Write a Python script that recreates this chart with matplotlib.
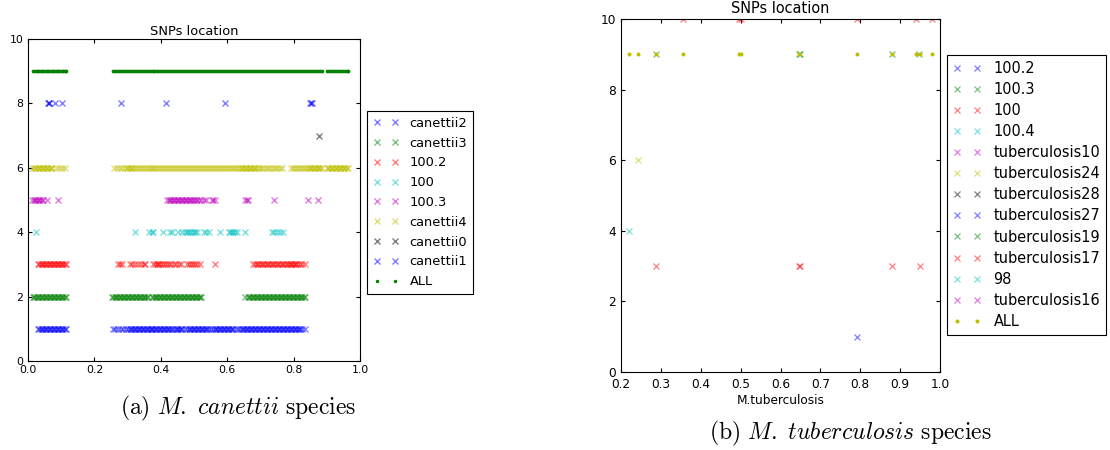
import matplotlib
matplotlib.use("Agg")
import matplotlib.pyplot as plt

# ---------------- data: left panel (M. canettii) ----------------
left_names = ["canettii2", "canettii3", "100.2", "100", "100.3",
              "canettii4", "canettii0", "canettii1"]
left_levels = [1, 2, 3, 4, 5, 6, 7, 8]
left_all_level = 9

canettii2_x = [0.030, 0.034, 0.038, 0.042, 0.046, 0.050, 0.054, 0.058, 0.062, 0.066, 0.070,
               0.074, 0.078, 0.082, 0.086, 0.090, 0.094, 0.098, 0.102, 0.106, 0.110, 0.114,
               0.255, 0.262, 0.270, 0.279, 0.287, 0.295, 0.301, 0.306, 0.310, 0.314, 0.318,
               0.322, 0.326, 0.330, 0.334, 0.338, 0.342, 0.346, 0.350, 0.354, 0.358, 0.362,
               0.366, 0.370, 0.374, 0.378, 0.382, 0.386, 0.390, 0.394, 0.398, 0.402, 0.406,
               0.410, 0.414, 0.418, 0.422, 0.426, 0.430, 0.434, 0.441, 0.445, 0.449, 0.453,
               0.457, 0.461, 0.465, 0.472, 0.479, 0.484, 0.488, 0.492, 0.496, 0.500, 0.504,
               0.508, 0.512, 0.516, 0.520, 0.524, 0.528, 0.532, 0.536, 0.540, 0.544, 0.551,
               0.558, 0.562, 0.566, 0.570, 0.574, 0.578, 0.582, 0.586, 0.590, 0.594, 0.598,
               0.602, 0.606, 0.610, 0.614, 0.618, 0.625, 0.632, 0.639, 0.644, 0.648, 0.652,
               0.656, 0.660, 0.664, 0.668, 0.672, 0.676, 0.680, 0.684, 0.688, 0.692, 0.696,
               0.700, 0.704, 0.708, 0.712, 0.716, 0.720, 0.724, 0.728, 0.732, 0.736, 0.740,
               0.744, 0.748, 0.752, 0.756, 0.760, 0.764, 0.768, 0.772, 0.776, 0.780, 0.784,
               0.788, 0.792, 0.796, 0.800, 0.804, 0.808, 0.812, 0.816, 0.820, 0.826, 0.833]
canettii3_x = [0.014, 0.018, 0.022, 0.026, 0.030, 0.034, 0.038, 0.042, 0.046, 0.050, 0.054,
               0.058, 0.062, 0.066, 0.070, 0.074, 0.078, 0.082, 0.086, 0.090, 0.094, 0.098,
               0.102, 0.106, 0.110, 0.114,
               0.253, 0.257, 0.261, 0.265, 0.269, 0.273, 0.277, 0.281, 0.285, 0.289, 0.293,
               0.297, 0.301, 0.305, 0.309, 0.313, 0.317, 0.321, 0.325, 0.329, 0.333, 0.337,
               0.341, 0.345, 0.349, 0.353, 0.357, 0.361,
               0.374, 0.378, 0.382, 0.386, 0.390, 0.394, 0.398, 0.402, 0.406, 0.410, 0.414,
               0.418, 0.422, 0.426, 0.430, 0.434, 0.438, 0.442, 0.446, 0.450, 0.454, 0.458,
               0.462, 0.466, 0.470, 0.474, 0.478, 0.482, 0.486, 0.490, 0.494, 0.498, 0.502,
               0.506, 0.510, 0.514, 0.518, 0.522,
               0.653, 0.662, 0.666, 0.670, 0.674, 0.678, 0.682, 0.686, 0.690, 0.694, 0.698,
               0.702, 0.706, 0.710, 0.714, 0.718, 0.722, 0.726, 0.730, 0.734, 0.738, 0.742,
               0.746, 0.750, 0.754, 0.758, 0.762, 0.766, 0.770, 0.774, 0.778, 0.782, 0.786,
               0.790, 0.794, 0.798, 0.802, 0.806, 0.810, 0.814, 0.818, 0.822, 0.826, 0.830,
               0.834]
s100_2_x = [0.030, 0.034, 0.038, 0.042, 0.046, 0.050, 0.054, 0.058, 0.062, 0.066, 0.070,
            0.074, 0.078, 0.082, 0.086, 0.090, 0.094, 0.098, 0.102, 0.106, 0.110, 0.114,
            0.272, 0.276, 0.282, 0.307, 0.314, 0.322, 0.331, 0.340, 0.348, 0.352, 0.378,
            0.383, 0.388, 0.392, 0.396, 0.401, 0.406, 0.412, 0.418, 0.425, 0.432, 0.440,
            0.447, 0.455, 0.462, 0.478, 0.484, 0.490, 0.496, 0.502, 0.509, 0.517, 0.563,
            0.679, 0.684, 0.689, 0.694, 0.699, 0.704, 0.709, 0.714, 0.719, 0.724, 0.729,
            0.734, 0.739, 0.744, 0.749, 0.754, 0.759, 0.764, 0.769, 0.774, 0.779, 0.784,
            0.788, 0.792, 0.796, 0.800, 0.804, 0.808, 0.812, 0.818, 0.825, 0.833]
s100_x = [0.024, 0.322, 0.365, 0.372, 0.378, 0.406, 0.428, 0.433, 0.453, 0.463, 0.473,
          0.478, 0.483, 0.489, 0.494, 0.499, 0.504, 0.508, 0.530, 0.537, 0.545, 0.578,
          0.604, 0.609, 0.613, 0.618, 0.624, 0.629, 0.654, 0.734, 0.742, 0.750, 0.758,
          0.768]
s100_3_x = [0.013, 0.017, 0.021, 0.025, 0.029, 0.033, 0.037, 0.041, 0.046, 0.056, 0.089,
            0.420, 0.424, 0.428, 0.432, 0.436, 0.440, 0.444, 0.448, 0.452, 0.456, 0.460,
            0.464, 0.468, 0.472, 0.476, 0.480, 0.484, 0.488, 0.492, 0.496, 0.500, 0.505,
            0.510, 0.516, 0.522, 0.530, 0.537, 0.553, 0.558, 0.563, 0.654, 0.659, 0.664,
            0.742, 0.844, 0.874]
canettii4_x = [0.013, 0.017, 0.021, 0.025, 0.029, 0.033, 0.037, 0.041, 0.045, 0.049, 0.053,
               0.057, 0.061, 0.065, 0.069, 0.073, 0.083, 0.092, 0.103, 0.112,
               0.260, 0.268, 0.276, 0.284, 0.292, 0.298, 0.302, 0.306, 0.310, 0.314, 0.318,
               0.324, 0.330, 0.336, 0.342, 0.348, 0.354, 0.360, 0.366, 0.372, 0.378, 0.384,
               0.390, 0.396, 0.402, 0.408, 0.414, 0.420, 0.426, 0.432, 0.438, 0.444, 0.450,
               0.456, 0.462, 0.468, 0.474, 0.480, 0.486, 0.492, 0.498, 0.504, 0.510, 0.516,
               0.522, 0.528, 0.534, 0.540, 0.546, 0.552, 0.558, 0.564, 0.570, 0.576, 0.582,
               0.588, 0.594, 0.600, 0.606, 0.612, 0.618, 0.624, 0.630, 0.636, 0.641, 0.645,
               0.649, 0.653, 0.657, 0.661, 0.665, 0.669, 0.673, 0.677, 0.681, 0.685, 0.689,
               0.695, 0.702, 0.709, 0.716, 0.723, 0.730, 0.737, 0.744, 0.751, 0.758, 0.765,
               0.792, 0.798, 0.804, 0.810, 0.816, 0.822, 0.828, 0.834, 0.840, 0.845, 0.849,
               0.853, 0.857, 0.861, 0.865, 0.869, 0.873, 0.877, 0.881, 0.885, 0.900, 0.904,
               0.908, 0.912, 0.916, 0.920, 0.924, 0.928, 0.932, 0.936, 0.940, 0.944, 0.948,
               0.952, 0.956, 0.960, 0.964]
canettii0_x = [0.875]
canettii1_x = [0.059, 0.062, 0.064, 0.081, 0.103, 0.280, 0.416, 0.593, 0.848, 0.851, 0.854]
left_all_x = [0.016, 0.021, 0.026, 0.031, 0.036, 0.041, 0.046, 0.051, 0.056, 0.061, 0.066,
              0.071, 0.076, 0.081, 0.086, 0.091, 0.096, 0.101, 0.106, 0.111, 0.114,
              0.255, 0.261, 0.267, 0.273, 0.279, 0.285, 0.291, 0.297, 0.303, 0.309, 0.315,
              0.321, 0.327, 0.333, 0.339, 0.345, 0.351, 0.357, 0.363, 0.369, 0.375, 0.381,
              0.387, 0.393, 0.399, 0.405, 0.411, 0.417, 0.423, 0.429, 0.435, 0.441, 0.447,
              0.453, 0.459, 0.465, 0.471, 0.477, 0.483, 0.489, 0.495, 0.501, 0.507, 0.513,
              0.519, 0.525, 0.531, 0.537, 0.543, 0.549, 0.555, 0.561, 0.567, 0.573, 0.579,
              0.585, 0.591, 0.597, 0.603, 0.609, 0.615, 0.621, 0.627, 0.633, 0.639, 0.645,
              0.651, 0.657, 0.663, 0.669, 0.675, 0.681, 0.687, 0.693, 0.699, 0.705, 0.711,
              0.717, 0.723, 0.729, 0.735, 0.741, 0.747, 0.753, 0.759, 0.765, 0.771, 0.777,
              0.783, 0.789, 0.795, 0.801, 0.807, 0.813, 0.819, 0.825, 0.831, 0.837, 0.843,
              0.849, 0.855, 0.861, 0.867, 0.873, 0.879, 0.885,
              0.900, 0.906, 0.912, 0.918, 0.924, 0.930, 0.936, 0.942, 0.948, 0.954, 0.960,
              0.965]
left_series = [canettii2_x, canettii3_x, s100_2_x, s100_x, s100_3_x,
               canettii4_x, canettii0_x, canettii1_x]

# ---------------- data: right panel (M. tuberculosis) ----------------
right_names = ["100.2", "100.3", "100", "100.4", "tuberculosis10", "tuberculosis24",
               "tuberculosis28", "tuberculosis27", "tuberculosis19", "tuberculosis17",
               "98", "tuberculosis16"]
right_levels = [1, 2, 3, 4, 5, 6, 7, 8, 9, 10, 11, 12]
right_all_level = 9
right_series = [
    [0.793],                              # 100.2
    [],                                   # 100.3
    [0.288, 0.646, 0.648, 0.880, 0.950],  # 100
    [0.220],                              # 100.4
    [],                                   # tuberculosis10
    [0.243],                              # tuberculosis24
    [],                                   # tuberculosis28
    [],                                   # tuberculosis27
    [0.288, 0.646, 0.648, 0.880, 0.948],  # tuberculosis19
    [0.355, 0.496, 0.500, 0.793, 0.940, 0.979],  # tuberculosis17
    [],                                   # 98
    [],                                   # tuberculosis16
]
right_all_x = [0.220, 0.243, 0.288, 0.355, 0.496, 0.500, 0.646, 0.793, 0.880, 0.940,
               0.950, 0.979]

left_xticks = [0.0, 0.2, 0.4, 0.6, 0.8, 1.0]
right_xticks = [0.2, 0.3, 0.4, 0.5, 0.6, 0.7, 0.8, 0.9, 1.0]
yticks = [0, 2, 4, 6, 8, 10]

# classic matplotlib colour cycle
cycle = [(0, 0, 1), (0, 0.5, 0), (1, 0, 0), (0, 0.75, 0.75),
         (0.75, 0, 0.75), (0.75, 0.75, 0), (0, 0, 0)]

plt.rcParams['mathtext.fontset'] = 'cm'
plt.rcParams['font.family'] = 'DejaVu Sans'

W, H = 1110, 450
fig = plt.figure(figsize=(W / 100, H / 100), dpi=100)


def style_axes(ax, tick_fs, lw, tl, xpad, ypad):
    for s in ax.spines.values():
        s.set_linewidth(lw)
    ax.tick_params(direction='in', top=True, right=True, labelsize=tick_fs,
                   length=tl, width=lw, colors='black')
    ax.tick_params(axis='x', pad=xpad)
    ax.tick_params(axis='y', pad=ypad)


# ---- left panel
sc = 0.653
ax1 = fig.add_axes([28 / W, 1 - 361 / H, 332 / W, 322 / H])
for i, (name, xs) in enumerate(zip(left_names, left_series)):
    ax1.plot(xs, [left_levels[i]] * len(xs), 'x', color=cycle[i % 7], alpha=0.5,
             markersize=4.4, markeredgewidth=1.0, label=name)
ax1.plot(left_all_x, [left_all_level] * len(left_all_x), '.',
         color=cycle[len(left_series) % 7], markersize=6 * sc, markeredgewidth=0.7,
         label='ALL')
ax1.set_xlim(0, 1)
ax1.set_ylim(0, 10)
ax1.set_xticks(left_xticks)
ax1.set_yticks(yticks)
style_axes(ax1, 12 * sc, 0.8, 2.8, 3.2, 3.2)
ax1.set_title('SNPs location', fontsize=14.4 * sc, pad=3)
leg1 = ax1.legend(loc='upper left', bbox_to_anchor=(367 / W, 1 - 111 / H),
                  bbox_transform=fig.transFigure, borderaxespad=0, numpoints=2,
                  fontsize=14.4 * sc, fancybox=False, framealpha=1, edgecolor='black',
                  handlelength=2.0, handletextpad=0.8, labelspacing=0.52, borderpad=0.45,
                  markerscale=0.9)
leg1.get_frame().set_linewidth(0.8)

# ---- right panel
sc2 = 0.725
ax2 = fig.add_axes([621 / W, 1 - 372 / H, 319 / W, 353 / H])
for i, (name, xs) in enumerate(zip(right_names, right_series)):
    ax2.plot(xs, [right_levels[i]] * len(xs), 'x', color=cycle[i % 7], alpha=0.5,
             markersize=6 * sc2, markeredgewidth=0.9, label=name)
ax2.plot(right_all_x, [right_all_level] * len(right_all_x), '.',
         color=cycle[len(right_series) % 7], markersize=6 * sc2, markeredgewidth=0.7,
         label='ALL')
ax2.set_xlim(0.2, 1.0)
ax2.set_ylim(0, 10)
ax2.set_xticks(right_xticks)
ax2.set_yticks(yticks)
style_axes(ax2, 12 * sc2, 0.8, 2.9, 4.3, 3.5)
ax2.set_title('SNPs location', fontsize=14.4 * sc2, pad=4)
ax2.set_xlabel('M.tuberculosis', fontsize=12 * sc2, labelpad=2.5)
leg2 = ax2.legend(loc='upper left', bbox_to_anchor=(947 / W, 1 - 55 / H),
                  bbox_transform=fig.transFigure, borderaxespad=0, numpoints=2,
                  fontsize=14.4 * sc2, fancybox=False, framealpha=1, edgecolor='black',
                  handlelength=2.0, handletextpad=0.8, labelspacing=0.42, borderpad=0.4)
leg2.get_frame().set_linewidth(0.8)

# ---- captions
fig.text(238 / W, 1 - 408 / H, r'$\mathrm{(a)}\ \mathit{M.\ canettii}\ \mathrm{species}$',
         ha='center', va='center', fontsize=17)
fig.text(850 / W, 1 - 433 / H, r'$\mathrm{(b)}\ \mathit{M.\ tuberculosis}\ \mathrm{species}$',
         ha='center', va='center', fontsize=17)

fig.savefig('out.png', dpi=100)
